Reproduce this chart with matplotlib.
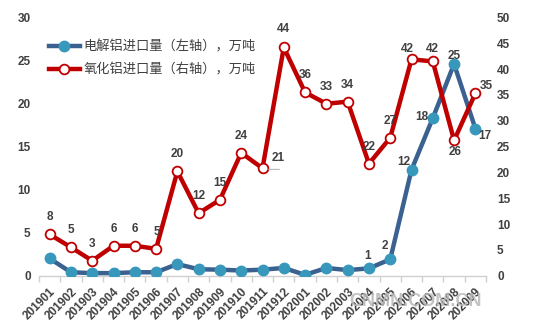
import matplotlib
matplotlib.use("Agg")
import matplotlib.pyplot as plt
from matplotlib.transforms import ScaledTranslation

months = ["201901", "201902", "201903", "201904", "201905", "201906", "201907",
          "201908", "201909", "201910", "201911", "201912", "202001", "202002",
          "202003", "202004", "202005", "202006", "202007", "202008", "202009"]
# electrolytic aluminium imports (left axis), 10k t
blue_vals = [2.0, 0.4, 0.3, 0.3, 0.4, 0.4, 1.35, 0.75, 0.7, 0.6, 0.7, 0.9, 0.1,
             0.9, 0.65, 0.85, 1.9, 12.3, 18.3, 24.6, 17.1]
# alumina imports (right axis), 10k t
red_vals = [8.0, 5.5, 2.9, 5.8, 5.8, 5.2, 20.2, 12.1, 14.7, 23.8, 20.8, 44.2,
            35.5, 33.3, 33.7, 21.7, 26.7, 41.9, 41.5, 26.2, 35.3]
red_labels = ["8", "5", "3", "6", "6", "5", "20", "12", "15", "24", "21", "44",
              "36", "33", "34", "22", "27", "42", "42", "26", "35"]
blue_labels = {15: "1", 16: "2", 17: "12", 18: "18", 19: "25", 20: "17"}
legend_names = ["电解铝进口量（左轴），万吨", "氧化铝进口量（右轴），万吨"]

BLUE_LINE = "#3B6190"
BLUE_MK = "#3898BC"
RED = "#C00000"
TXT = "#404040"

fig = plt.figure(figsize=(5.52, 3.34), dpi=100)
ax = fig.add_axes([39/552, 1-275.7/334, (486-39)/552, (275.7-17.5)/334])
ax2 = ax.twinx()

x = list(range(len(months)))
lb, = ax.plot(x, blue_vals, color=BLUE_LINE, lw=3.2, marker="o", ms=7.5,
              mfc=BLUE_MK, mec=BLUE_MK, zorder=3)
lr, = ax2.plot(x, red_vals, color=RED, lw=3.2, marker="o", ms=7,
               mfc="white", mec=RED, mew=1.3, zorder=3)

ax.set_xlim(-0.5, len(months) - 0.5)
ax.set_ylim(0, 30)
ax2.set_ylim(0, 50)
ax.set_yticks(range(0, 31, 5))
ax2.set_yticks(range(0, 51, 5))

for a in (ax, ax2):
    for s in a.spines.values():
        s.set_visible(False)
ax.spines["bottom"].set_visible(True)
ax.spines["bottom"].set_color("#D0D0D0")
ax.spines["bottom"].set_linewidth(1.0)

tick_font = dict(family="Liberation Sans", weight="bold", size=8.5)
ax.tick_params(axis="y", length=0, pad=6, labelcolor=TXT)
ax2.tick_params(axis="y", length=0, pad=8, labelcolor=TXT)
for t in ax.get_yticklabels() + ax2.get_yticklabels():
    t.set_fontfamily("Liberation Sans"); t.set_fontweight("bold"); t.set_fontsize(8.5)

ax.set_xticks(x)
ax.set_xticklabels(months, rotation=45, ha="right", rotation_mode="anchor",
                   color=TXT, **tick_font)
ax.set_xticks([i - 0.5 for i in range(len(months) + 1)], minor=True)
ax.tick_params(axis="x", which="major", length=0, pad=7)
ax.tick_params(axis="x", which="minor", length=4, color="#D0D0D0", width=1)

lab_font = dict(family="Liberation Sans", weight="bold", size=8.5, color=TXT)
px = 72 / 100
red_off = {i: (0, 17) for i in range(len(months))}
red_off.update({10: (16, 10), 17: (-4, 10), 18: (0, 12), 19: (1, -12),
                20: (11, 7), 5: (1, 17), 11: (0, 18)})
for i, (v, s) in enumerate(zip(red_vals, red_labels)):
    dx, dy = red_off[i]
    ax2.annotate(s, (i, v), xytext=(dx*px, dy*px), textcoords="offset points",
                 ha="center", va="center", **lab_font)
# short horizontal leader line under the 201911 label
lead_tr = ax2.transData + ScaledTranslation(5/100, -1/100, fig.dpi_scale_trans)
ax2.annotate("", (10, red_vals[10]), xycoords=lead_tr, xytext=(12*px, 0),
             textcoords="offset points",
             arrowprops=dict(arrowstyle="-", color="#A0A0A0", lw=0.6,
                             shrinkA=0, shrinkB=0))
blue_off = {15: (-1, 12), 16: (-5, 13), 17: (-8, 8), 18: (-11, 1),
            19: (0, 8), 20: (9, -7)}
for i, s in blue_labels.items():
    dx, dy = blue_off[i]
    ax.annotate(s, (i, blue_vals[i]), xytext=(dx*px, dy*px), textcoords="offset points",
                ha="center", va="center", **lab_font)

leg = fig.legend([lb, lr], legend_names, loc="upper left",
                 bbox_to_anchor=(44/552, 1-35/334), frameon=False,
                 prop=dict(family=["Noto Sans CJK SC", "DejaVu Sans"], size=9.5),
                 handlelength=2.3, handletextpad=0.3, labelspacing=0.75,
                 borderaxespad=0)
for t in leg.get_texts():
    t.set_color(TXT)

fig.text(415/552, 1-301/334, "CNMN.COM.CN", ha="center", va="center",
         family="Liberation Sans", weight="bold", size=13, color="#B8B8B8",
         alpha=0.85)

fig.savefig("out.png", dpi=100)
